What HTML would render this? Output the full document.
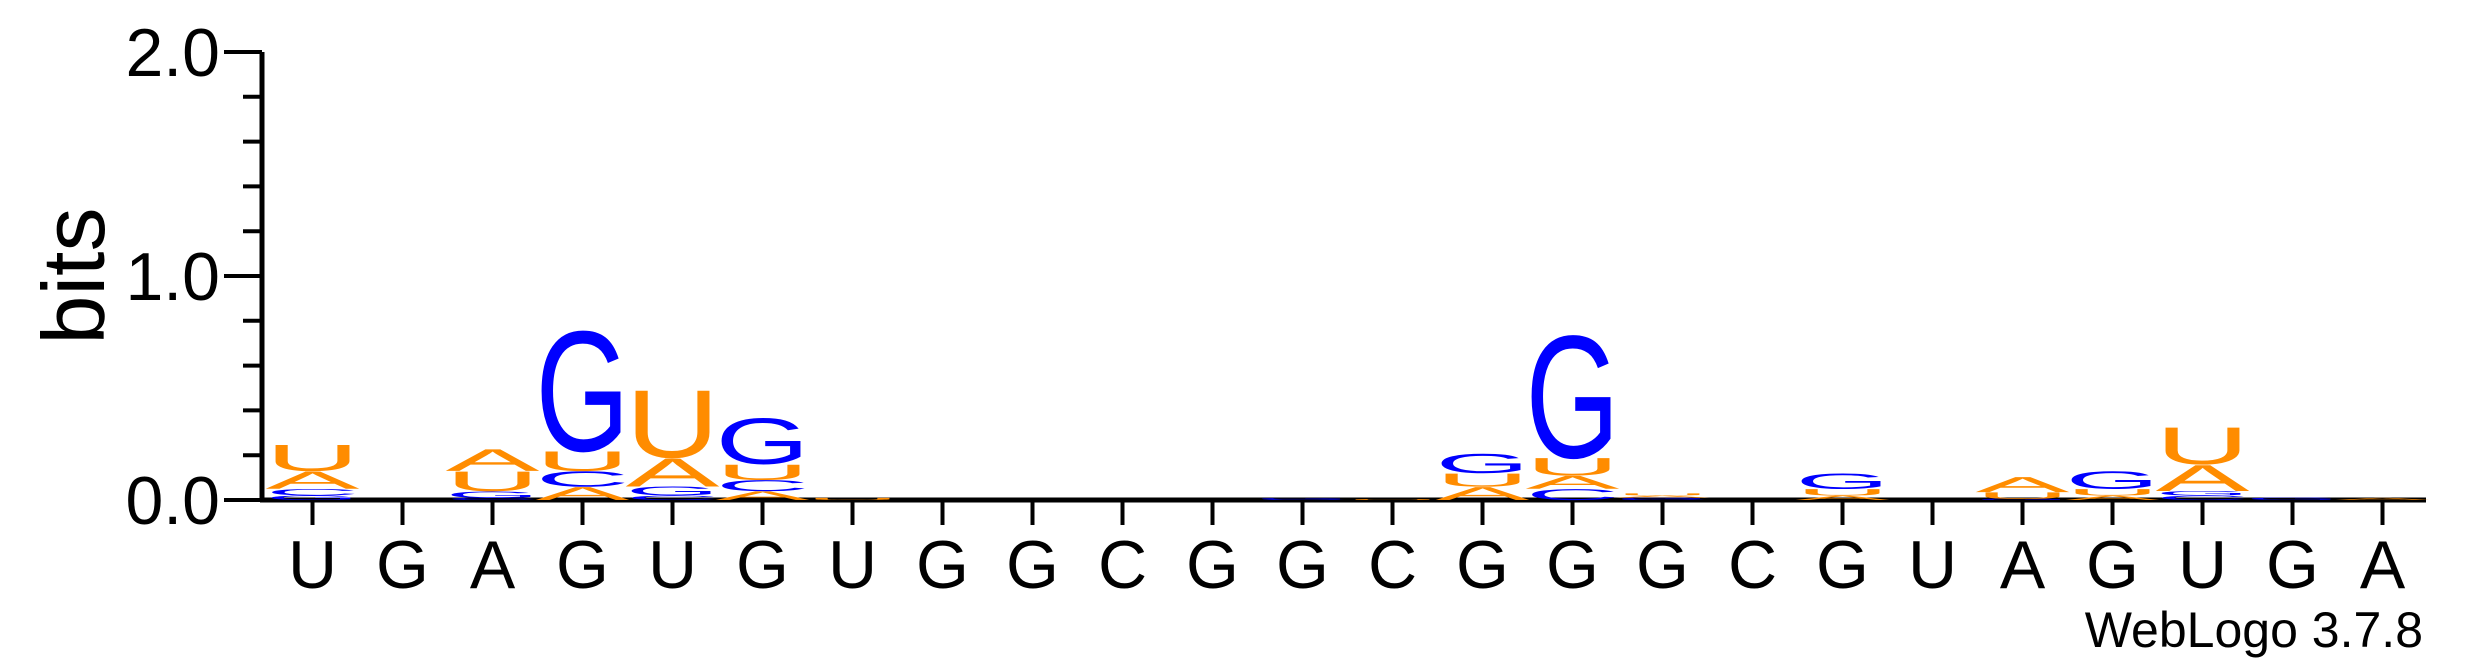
<!DOCTYPE html>
<html><head><meta charset="utf-8"><style>
html,body{margin:0;padding:0;background:#fff;}
svg{display:block;font-family:"Liberation Sans",Arial,sans-serif;}
</style></head><body>
<svg id="logo" width="2475" height="667" viewBox="0 0 2475 667">
<g id="axes"></g>
<g id="stacks"></g>
<text x="104" y="276" font-size="88" text-anchor="middle" transform="rotate(-90 104 276)">bits</text>
<text x="2423" y="647" font-size="50" text-anchor="end">WebLogo 3.7.8</text>
</svg>
<script>
const positions = ["U","G","A","G","U","G","U","G","G","C","G","G","C","G","G","G","C","G","U","A","G","U","G","A"];
const heightA = [0.08,0,0.1,0.06,0.13,0.04,0,0,0,0,0,0,0,0.06,0.06,0.01,0,0.02,0,0.07,0.02,0.12,0,0.01];
const heightC = [0.03,0,0.01,0.07,0.02,0.05,0,0,0,0,0,0.003,0,0,0.05,0.005,0,0,0,0,0,0.02,0,0];
const heightG = [0.02,0,0.03,0.55,0.04,0.21,0,0,0,0,0,0.005,0,0.09,0.56,0.005,0,0.07,0,0.005,0.08,0.02,0.01,0];
const heightU = [0.12,0,0.09,0.09,0.31,0.07,0.01,0,0,0,0,0,0.004,0.06,0.08,0.01,0,0.03,0,0.03,0.03,0.17,0,0];
const yTicks = [0,0.2,0.4,0.6,0.8,1.0,1.2,1.4,1.6,1.8,2.0];
const yLabels = ["0.0","1.0","2.0"];
const yLabelVals = [0,1,2];

const NS="http://www.w3.org/2000/svg";
const x0=262, xEnd=2426, yZero=500, yTop=52, firstX=312.5, step=90, letterW=94;
const yScale=v=>yZero-(v/2)*(yZero-yTop);
const xScale=i=>firstX+i*step;
const colors={A:"#FF8C00",U:"#FF8C00",G:"#0000FF",C:"#0000FF"};
const axes=document.getElementById('axes');
function mk(tag,attrs,parent){const e=document.createElementNS(NS,tag);for(const k in attrs)e.setAttribute(k,attrs[k]);parent.appendChild(e);return e;}

let l=mk('line',{x1:x0,y1:yTop,x2:x0,y2:yZero+2,stroke:"#000","stroke-width":5},axes);


l=mk('line',{x1:x0-2,y1:yZero,x2:xEnd,y2:yZero,stroke:"#000","stroke-width":5},axes);


yTicks.forEach(v=>{
  const major=Math.abs(v-Math.round(v))<1e-9;
  const t=mk('line',{x1:x0-(major?38:19),y1:yScale(v),x2:x0,y2:yScale(v),stroke:"#000","stroke-width":4},axes);
  
  
});
yLabels.forEach((s,i)=>{
  const t=mk('text',{x:220,y:yScale(yLabelVals[i])+24,"font-size":68,"text-anchor":"end"},axes);
  t.textContent=s;
  
  
});
positions.forEach((p,i)=>{
  const t=mk('line',{x1:xScale(i),y1:yZero,x2:xScale(i),y2:yZero+25,stroke:"#000","stroke-width":4},axes);
  
  
  const lb=mk('text',{x:xScale(i),y:588,"font-size":68,"text-anchor":"middle"},axes);
  lb.textContent=p;
  
  
});
const stacks=document.getElementById('stacks');
const capH=71.6;
positions.forEach((p,i)=>{
  const items=[["A",heightA[i]],["C",heightC[i]],["G",heightG[i]],["U",heightU[i]]].filter(d=>d[1]>0).sort((a,b)=>a[1]-b[1]);
  let base=0;
  items.forEach(([ch,h])=>{
    const yb=yScale(base), px=yZero-yScale(h);
    const t=mk('text',{x:0,y:0,"font-size":100,"text-anchor":"middle",fill:colors[ch],textLength:letterW,lengthAdjust:"spacingAndGlyphs",transform:`translate(${xScale(i)},${yb}) scale(1,${px/capH})`},stacks);
    t.textContent=ch;
    
    
    base+=h;
  });
});
</script>
</body></html>
